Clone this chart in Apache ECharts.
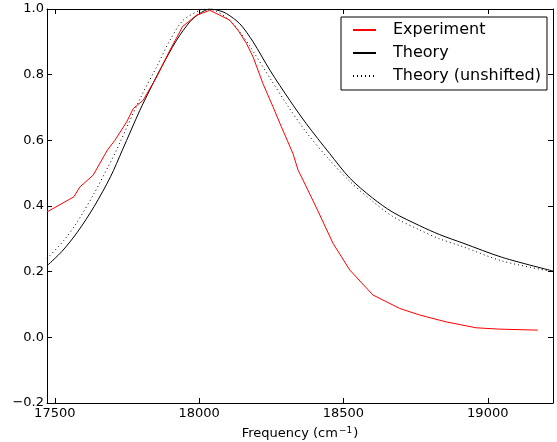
<!DOCTYPE html>
<html>
<head>
<meta charset="utf-8">
<script src="https://cdn.jsdelivr.net/npm/echarts@6/dist/echarts.min.js"></script>
<style>
html,body{margin:0;padding:0;background:#fff;}
#chart{width:557px;height:442px;}
</style>
</head>
<body>
<div id="chart"></div>
<script>
// ---- data ----
var expFreq = [17473, 17566, 17587, 17633, 17682, 17708, 17749, 17772, 17806, 17853, 17899, 17933, 17942, 17991, 18037, 18072, 18106, 18135, 18164, 18187, 18221, 18256, 18285, 18325, 18343, 18360, 18410, 18464, 18522, 18602, 18695, 18764, 18856, 18960, 19040, 19173];
var expVal  = [0.382, 0.428, 0.458, 0.494, 0.570, 0.600, 0.656, 0.697, 0.722, 0.793, 0.875, 0.930, 0.946, 0.981, 0.996, 0.981, 0.966, 0.935, 0.895, 0.854, 0.773, 0.702, 0.641, 0.560, 0.509, 0.479, 0.388, 0.286, 0.205, 0.129, 0.088, 0.068, 0.047, 0.029, 0.025, 0.022];

var thFreq = [17473, 17525, 17578, 17636, 17693, 17734, 17795, 17829, 17864, 17922, 17968, 18000, 18037, 18070, 18095, 18141, 18187, 18245, 18314, 18371, 18452, 18522, 18600, 18671, 18764, 18833, 18914, 19052, 19226];
var thVal  = [0.218, 0.262, 0.320, 0.398, 0.489, 0.570, 0.692, 0.753, 0.814, 0.905, 0.961, 0.985, 1.000, 0.995, 0.986, 0.955, 0.900, 0.814, 0.722, 0.651, 0.560, 0.485, 0.425, 0.381, 0.340, 0.313, 0.287, 0.243, 0.202];

var unFreq = [17473, 17532, 17578, 17636, 17688, 17711, 17726, 17800, 17853, 17899, 17945, 18002, 18022, 18060, 18106, 18141, 18175, 18245, 18302, 18371, 18447, 18522, 18600, 18671, 18764, 18833, 18914, 19052, 19226];
var unVal  = [0.240, 0.296, 0.352, 0.438, 0.525, 0.565, 0.594, 0.735, 0.824, 0.905, 0.966, 0.996, 1.000, 0.993, 0.965, 0.930, 0.888, 0.790, 0.712, 0.625, 0.545, 0.475, 0.415, 0.368, 0.327, 0.300, 0.276, 0.232, 0.200];

var seriesNames = ['Experiment', 'Theory', 'Theory (unshifted)'];
var xTicks = [17500, 18000, 18500, 19000];
var xMin = 17473, xMax = 19226;
var yMin = -0.2, yMax = 1.0, yStep = 0.2;

function pairs(f, v) { return f.map(function (x, i) { return [x, v[i]]; }); }

var FONT = 'DejaVu Sans';
var chart = echarts.init(document.getElementById('chart'), null, {renderer: 'canvas'});

var axisLine = {show: true, onZero: false, lineStyle: {color: '#000', width: 1}};
var tickStyle = {show: true, inside: true, length: 5, lineStyle: {color: '#000', width: 1}};

function yFmt(v) {
  var s = (Math.round(v * 10) / 10).toFixed(1);
  return s.replace('-', '\u2212');
}

var option = {
  animation: false,
  backgroundColor: '#fff',
  grid: {left: 47, right: 4, top: 9, bottom: 39, containLabel: false, outerBoundsMode: 'none'},
  legend: {
    orient: 'vertical',
    left: 341,
    top: 17,
    padding: [5, 6, 6, 11],
    itemGap: 7,
    itemWidth: 23,
    itemHeight: 14,
    borderColor: '#000',
    borderWidth: 1,
    borderRadius: 0,
    backgroundColor: '#fff',
    itemStyle: {opacity: 0},
    textStyle: {fontFamily: FONT, fontSize: 16, color: '#000', padding: [0, 0, 0, 12], lineHeight: 16},
    data: seriesNames
  },
  xAxis: [{
    type: 'value', min: xMin, max: xMax, position: 'bottom',
    axisLine: axisLine,
    axisTick: Object.assign({}, tickStyle, {customValues: xTicks}),
    axisLabel: {customValues: xTicks, fontFamily: FONT, fontSize: 13, color: '#000', margin: 4, formatter: function (v) { return String(v); }},
    splitLine: {show: false},
    name: '{a|Frequency (cm}{s|\u22121}{a|)}',
    nameLocation: 'middle', nameGap: 23,
    nameTextStyle: {
      rich: {
        a: {fontFamily: FONT, fontSize: 13, color: '#000'},
        s: {fontFamily: FONT, fontSize: 9, color: '#000', padding: [0, 1, 7, 1]}
      }
    }
  }, {
    type: 'value', min: xMin, max: xMax, position: 'top',
    axisLine: axisLine,
    axisTick: Object.assign({}, tickStyle, {customValues: xTicks}),
    axisLabel: {show: false},
    splitLine: {show: false}
  }],
  yAxis: [{
    type: 'value', min: yMin, max: yMax, interval: yStep, position: 'left',
    axisLine: axisLine,
    axisTick: tickStyle,
    axisLabel: {fontFamily: FONT, fontSize: 13, color: '#000', margin: 3, formatter: yFmt},
    splitLine: {show: false}
  }, {
    type: 'value', min: yMin, max: yMax, interval: yStep, position: 'right',
    axisLine: axisLine,
    axisTick: tickStyle,
    axisLabel: {show: false},
    splitLine: {show: false}
  }],
  series: [{
    name: seriesNames[0], type: 'line', data: pairs(expFreq, expVal),
    symbol: 'none', smooth: false,
    lineStyle: {color: '#ff0000', width: 1}, itemStyle: {color: '#ff0000'}, z: 3
  }, {
    name: seriesNames[1], type: 'line', data: pairs(thFreq, thVal),
    symbol: 'none', smooth: 0.3,
    lineStyle: {color: '#000', width: 1}, itemStyle: {color: '#000'}, z: 2
  }, {
    name: seriesNames[2], type: 'line', data: pairs(unFreq, unVal),
    symbol: 'none', smooth: 0.3,
    lineStyle: {color: '#000', width: 1, type: [1, 3]}, itemStyle: {color: '#000'}, z: 1
  }]
};
chart.setOption(option);
</script>
</body>
</html>
